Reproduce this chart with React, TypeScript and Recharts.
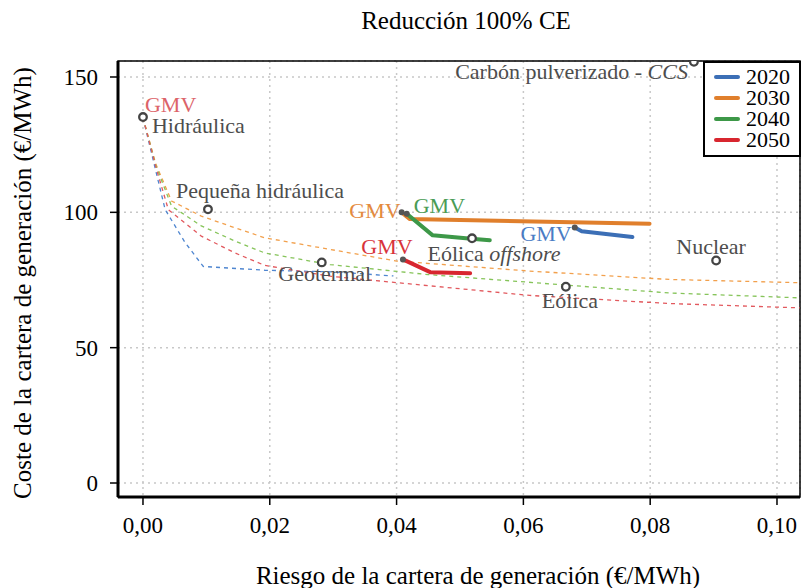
import React from 'react';
import {
  ComposedChart,
  Line,
  Scatter,
  XAxis,
  YAxis,
  CartesianGrid,
  ReferenceArea,
} from 'recharts';

const FONT = '"Liberation Serif", "DejaVu Serif", serif';

const years = ['2020', '2030', '2040', '2050'];
const yearColors = ['#3c6fb6', '#e07f2c', '#3d9848', '#d8262f'];
const frontierColors = ['#4f86d0', '#f2a04c', '#86c45a', '#e2595e'];
const gmvColors = ['#4a7cc4', '#e48a3e', '#4a9c55', '#d8333b'];

// fronteras eficientes (discontinuas)
const frontier2020X = [0, 0.0019, 0.0035, 0.0066, 0.0095, 0.0192, 0.03, 0.0395];
const frontier2020Y = [135, 116.5, 101, 89, 80, 78.6, 78, 76.5];
const frontier2030X = [0, 0.002, 0.0045, 0.0092, 0.0145, 0.0192, 0.0295, 0.04, 0.061, 0.083, 0.1036];
const frontier2030Y = [135, 118, 104.2, 98.6, 94.3, 90.6, 86.3, 82, 78.3, 75.2, 74];
const frontier2040X = [0, 0.002, 0.0045, 0.0092, 0.0145, 0.0192, 0.0295, 0.045, 0.0831, 0.1036];
const frontier2040Y = [135, 117.5, 102.3, 95, 89.4, 85, 80.7, 77, 70.2, 68.4];
const frontier2050X = [0, 0.002, 0.004, 0.0092, 0.0145, 0.0192, 0.0295, 0.061, 0.0831, 0.1036];
const frontier2050Y = [135, 117, 101, 91.2, 85, 80.4, 76.4, 69.3, 66.3, 64.7];

// trayectorias desde la cartera GMV (continuas)
const path2020X = [0.0681, 0.0692, 0.0772];
const path2020Y = [94.4, 93, 90.9];
const path2030X = [0.0408, 0.0421, 0.0799];
const path2030Y = [100, 97.5, 95.8];
const path2040X = [0.0416, 0.0457, 0.0518, 0.0547];
const path2040Y = [99.5, 91.5, 90.2, 89.7];
const path2050X = [0.041, 0.0453, 0.0516];
const path2050Y = [82.6, 77.9, 77.5];

// tecnologías
const techNames = ['Hidráulica', 'Pequeña hidráulica', 'Geotermal', 'Eólica offshore', 'Eólica', 'Nuclear', 'Carbón pulverizado - CCS'];
const techX = [0, 0.01025, 0.0282, 0.0519, 0.0667, 0.0904, 0.0869];
const techY = [135.2, 101.1, 81.5, 90.4, 72.5, 82.2, 155.6];

const xTicks = [0, 0.02, 0.04, 0.06, 0.08, 0.1];
const xTickLabels = ['0,00', '0,02', '0,04', '0,06', '0,08', '0,10'];
const yTicks = [0, 50, 100, 150];

const zip = (xs: number[], ys: number[]) => xs.map((x, i) => ({ x, y: ys[i] }));

const frontiers = [
  zip(frontier2020X, frontier2020Y),
  zip(frontier2030X, frontier2030Y),
  zip(frontier2040X, frontier2040Y),
  zip(frontier2050X, frontier2050Y),
];
const paths = [
  zip(path2020X, path2020Y),
  zip(path2030X, path2030Y),
  zip(path2040X, path2040Y),
  zip(path2050X, path2050Y),
];
const techData = techNames.map((name, i) => ({ name, x: techX[i], y: techY[i] }));

// GMV markers: start of every path, plus the one over Hidráulica
const gmvData = [
  ...paths.map((p, i) => ({ ...p[0], key: years[i], color: gmvColors[i] })),
  { x: techX[0], y: techY[0], key: 'hid', color: '#dc6369' },
];

// label placement (px offsets)
const techLabelPos: Record<string, { dx: number; dy: number; anchor: string }> = {
  'Hidráulica': { dx: 9, dy: 16, anchor: 'start' },
  'Pequeña hidráulica': { dx: 52, dy: -11, anchor: 'middle' },
  'Geotermal': { dx: 3, dy: 19, anchor: 'middle' },
  'Eólica offshore': { dx: 22, dy: 23, anchor: 'middle' },
  'Eólica': { dx: 4, dy: 21, anchor: 'middle' },
  'Nuclear': { dx: -5, dy: -7, anchor: 'middle' },
  'Carbón pulverizado - CCS': { dx: -6, dy: 17, anchor: 'end' },
};
const gmvLabelPos: Record<string, { dx: number; dy: number; anchor: string }> = {
  '2020': { dx: -3, dy: 14, anchor: 'end' },
  '2030': { dx: -1, dy: 6, anchor: 'end' },
  '2040': { dx: 7, dy: -1, anchor: 'start' },
  '2050': { dx: -16, dy: -5, anchor: 'middle' },
  hid: { dx: 2, dy: -5, anchor: 'start' },
};

function TechPoint(props: any) {
  const { cx, cy, payload } = props;
  const pos = techLabelPos[payload.name];
  let label: React.ReactNode = payload.name;
  if (payload.name === 'Eólica offshore') {
    label = (
      <>
        Eólica <tspan fontStyle="italic">offshore</tspan>
      </>
    );
  } else if (payload.name === 'Carbón pulverizado - CCS') {
    label = (
      <>
        Carbón pulverizado - <tspan fontStyle="italic">CCS</tspan>
      </>
    );
  }
  return (
    <g>
      <circle cx={cx} cy={cy} r={3.8} fill="#fff" stroke="#444" strokeWidth={2.3} />
      <text x={cx + pos.dx} y={cy + pos.dy} textAnchor={pos.anchor as any} fontSize={22} fill="#4d4d4d" fontFamily={FONT}>
        {label}
      </text>
    </g>
  );
}

function GmvPoint(props: any) {
  const { cx, cy, payload } = props;
  const pos = gmvLabelPos[payload.key];
  return (
    <g>
      {payload.key !== 'hid' && <circle cx={cx} cy={cy} r={3} fill="#555" />}
      <text x={cx + pos.dx} y={cy + pos.dy} textAnchor={pos.anchor as any} fontSize={22} fill={payload.color} fontFamily={FONT}>
        GMV
      </text>
    </g>
  );
}

function LegendBox() {
  return (
    <div
      style={{
        position: 'absolute',
        left: 703,
        top: 61,
        width: 94,
        height: 92,
        border: '2px solid #000',
        background: '#fff',
        fontFamily: FONT,
        fontSize: 22,
        lineHeight: '21px',
      }}
    >
      <div style={{ height: 3 }} />
      {years.map((y, i) => (
        <div key={y} style={{ display: 'flex', alignItems: 'center', height: 21 }}>
          <div style={{ width: 26, height: 4, background: yearColors[i], marginLeft: 9, marginRight: 6, borderRadius: 2 }} />
          <span style={{ color: '#000' }}>{y}</span>
        </div>
      ))}
    </div>
  );
}

export default function App() {
  return (
    <div style={{ position: 'absolute', left: 0, top: 0, width: 803, height: 588, background: '#fff', fontFamily: FONT }}>
      <div style={{ position: 'absolute', top: 7, left: 466, transform: 'translateX(-50%)', fontSize: 25, whiteSpace: 'nowrap' }}>
        Reducción 100% CE
      </div>
      <ComposedChart width={803} height={588} margin={{ top: 61, right: 3, bottom: 0, left: 0 }} style={{ fontFamily: FONT }}>
        <CartesianGrid stroke="#c8c8c8" strokeDasharray="2 4" strokeWidth={1.5} />
        <XAxis
          type="number"
          dataKey="x"
          domain={[-0.00394, 0.10363]}
          allowDataOverflow
          ticks={xTicks}
          tickFormatter={(v: number, i: number) => xTickLabels[i] ?? String(v)}
          height={91}
          tickSize={8}
          tickMargin={12}
          axisLine={{ stroke: '#000', strokeWidth: 3 }}
          tickLine={{ stroke: '#000', strokeWidth: 1.5 }}
          tick={{ fontSize: 23, fill: '#000', fontFamily: FONT }}
          label={{
            content: ({ viewBox }: any) => (
              <text x={478} y={viewBox.y + 87} textAnchor="middle" fontSize={25} fill="#000" fontFamily={FONT}>
                Riesgo de la cartera de generación (€/MWh)
              </text>
            ),
          }}
        />
        <YAxis
          type="number"
          dataKey="y"
          domain={[-5.17, 155.91]}
          allowDataOverflow
          ticks={yTicks}
          width={118}
          tickSize={8}
          tickMargin={12}
          axisLine={{ stroke: '#000', strokeWidth: 3 }}
          tickLine={{ stroke: '#000', strokeWidth: 1.5 }}
          tick={{ fontSize: 23, fill: '#000', fontFamily: FONT }}
          label={{
            content: ({ viewBox }: any) => (
              <text
                x={31}
                y={viewBox.y + viewBox.height / 2 + 4}
                transform={`rotate(-90, 31, ${viewBox.y + viewBox.height / 2 + 4})`}
                textAnchor="middle"
                fontSize={25}
                fill="#000"
                fontFamily={FONT}
              >
                Coste de la cartera de generación (€/MWh)
              </text>
            ),
          }}
        />
        <ReferenceArea x1={-0.00394} x2={0.10363} y1={-5.17} y2={155.91} fill="none" stroke="#000" strokeWidth={1.5} ifOverflow="visible" />
        {frontiers.map((d, i) => (
          <Line
            key={'f' + years[i]}
            data={d}
            dataKey="y"
            type="linear"
            stroke={frontierColors[i]}
            strokeWidth={1.3}
            strokeDasharray="4 4"
            dot={false}
            activeDot={false}
            isAnimationActive={false}
          />
        ))}
        {paths.map((d, i) => (
          <Line
            key={'p' + years[i]}
            data={d}
            dataKey="y"
            name={years[i]}
            type="linear"
            stroke={yearColors[i]}
            strokeWidth={4}
            strokeLinejoin="round"
            strokeLinecap="round"
            dot={false}
            activeDot={false}
            isAnimationActive={false}
          />
        ))}
        <Scatter data={techData} dataKey="y" shape={<TechPoint />} isAnimationActive={false} />
        <Scatter data={gmvData} dataKey="y" shape={<GmvPoint />} isAnimationActive={false} />
      </ComposedChart>
      <LegendBox />
    </div>
  );
}
